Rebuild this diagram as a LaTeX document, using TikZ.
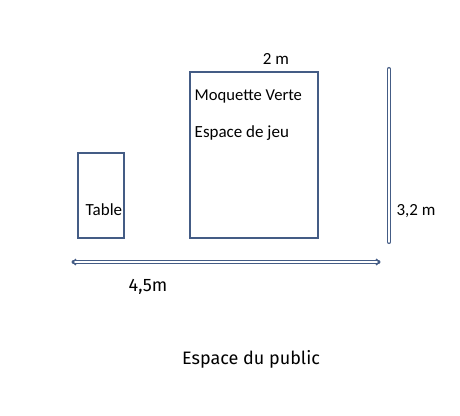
\documentclass[tikz,border=0pt]{standalone}
\usepackage{fontspec}
\setmainfont{Carlito}
\newfontfamily\pubfont{Fira Sans}
\usetikzlibrary{arrows.meta}
\definecolor{planblue}{HTML}{445C85}
\begin{document}
\begin{tikzpicture}[x=1pt, y=-1pt, thick, font=\fontsize{17}{20}\selectfont,
    zone/.style={draw=planblue, line width=1.3pt, inner sep=0pt},
    cote/.style={draw=planblue, line width=1.3pt, double=white, double distance=1.5pt, line cap=round}]
  \useasboundingbox (0,0) rectangle (460,415);
  \node[zone, minimum width=46pt, minimum height=85pt] (table) at (101,195.5) {};
  \node[zone, minimum width=128pt, minimum height=166pt] (jeu) at (254,155) {};
  \node[anchor=west] (tablelbl) at (82,210) {Table};
  \node[anchor=west, font=\fontsize{16.6}{20}\selectfont] (moq) at (191,97) {Moquette Verte};
  \node[anchor=west] (esp) at (191,133) {Espace de jeu};
  \node (larg) at (276,59) {2 m};
  \coordinate (H1) at (389,69); \coordinate (H2) at (389,242);
  \coordinate (L1) at (72,262); \coordinate (L2) at (380,262);
  \draw[cote] (H1) -- (H2);
  \draw[cote, {Straight Barb[length=3pt, width=6pt]}-{Straight Barb[length=3pt, width=6pt]}] (L1) -- (L2);
  \node (haut) at (416,211) {3,2 m};
  \node[font=\pubfont\fontsize{18}{20}\selectfont] (long) at (148,287) {4,5m};
  \node[font=\pubfont\fontsize{18}{20}\selectfont] (public) at (251,359) {Espace du public};
\end{tikzpicture}
\end{document}
